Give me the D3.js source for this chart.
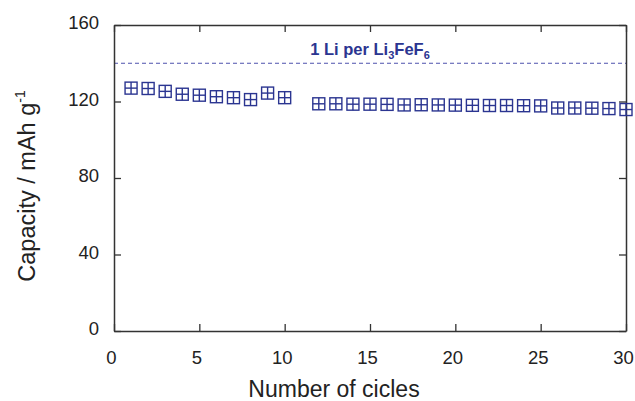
<!DOCTYPE html>
<html>
<head>
<meta charset="utf-8">
<script src="https://cdn.jsdelivr.net/npm/d3@7"></script>
<style>
  body { margin: 0; background: #fff; }
  svg { display: block; font-family: "Liberation Sans", Arial, Helvetica, sans-serif; }
</style>
</head>
<body>
<svg id="chart" width="635" height="401"></svg>
<script>
// capacity per cycle (cycle 11 missing in the original)
const cycles = [1, 2, 3, 4, 5, 6, 7, 8, 9, 10,
    12, 13, 14, 15, 16, 17, 18, 19, 20,
    21, 22, 23, 24, 25, 26, 27, 28, 29, 30];
const capacity = [127.0, 126.8, 125.3, 123.8, 123.3, 122.5, 122.0, 121.0, 124.4, 122.0,
    118.8, 118.8, 118.6, 118.6, 118.5, 118.2, 118.3, 118.2, 118.1,
    118.0, 117.9, 117.9, 117.8, 117.7, 116.6, 116.6, 116.5, 116.3, 115.8];
const xTicks = [0, 5, 10, 15, 20, 25, 30];
const yTicks = [0, 40, 80, 120, 160];
const theoretical = 140; // 1 Li per Li3FeF6

const margin = { top: 25, right: 9, bottom: 70, left: 114 };
const width = 635, height = 401;

const svg = d3.select("#chart");

const x = d3.scaleLinear().domain([0, 30]).range([margin.left, width - margin.right]);
const y = d3.scaleLinear().domain([0, 160]).range([height - margin.bottom, margin.top]);

const axisColor = "#333";
const markColor = "#2b3591";

// dashed reference line
svg.append("line")
    .attr("x1", x(0)).attr("x2", x(30))
    .attr("y1", y(theoretical)).attr("y2", y(theoretical))
    .attr("stroke", "#4d52ad")
    .attr("stroke-width", 1)
    .attr("stroke-dasharray", "4,3");

const label = svg.append("text")
    .attr("x", x(15))
    .attr("y", y(theoretical) - 8)
    .attr("text-anchor", "middle")
    .attr("font-size", 16.5)
    .attr("font-weight", "bold")
    .attr("fill", markColor);
label.append("tspan").text("1 Li per Li");
label.append("tspan").attr("font-size", 11).attr("dy", 4).text("3");
label.append("tspan").attr("dy", -4).text("FeF");
label.append("tspan").attr("font-size", 11).attr("dy", 4).text("6");

// axes with inward ticks on all four sides
const gBottom = svg.append("g")
    .attr("transform", `translate(0,${y(0)})`)
    .call(d3.axisBottom(x).tickValues(xTicks).tickSizeInner(-7).tickSizeOuter(0).tickPadding(20));
const gTop = svg.append("g")
    .attr("transform", `translate(0,${y(160)})`)
    .call(d3.axisTop(x).tickValues(xTicks).tickSizeInner(-7).tickSizeOuter(0).tickFormat(""));
const gLeft = svg.append("g")
    .attr("transform", `translate(${x(0)},0)`)
    .call(d3.axisLeft(y).tickValues(yTicks).tickSizeInner(-7).tickSizeOuter(0).tickPadding(15));
const gRight = svg.append("g")
    .attr("transform", `translate(${x(30)},0)`)
    .call(d3.axisRight(y).tickValues(yTicks).tickSizeInner(-7).tickSizeOuter(0).tickFormat(""));

[gBottom, gTop, gLeft, gRight].forEach(g => {
    g.select(".domain").attr("stroke", axisColor).attr("stroke-width", 1.5);
    g.selectAll(".tick line").attr("stroke", axisColor).attr("stroke-width", 1.3);
    g.selectAll(".tick text").attr("fill", "#222").attr("font-size", 18.5)
        .attr("font-family", "Liberation Sans, Arial, sans-serif");
});
gBottom.selectAll(".tick text").attr("dx", -3);
gLeft.selectAll(".tick text").attr("dy", "0.2em");

// markers: open squares with a cross
const s = 6;
const pts = svg.append("g").selectAll("g.pt")
    .data(cycles.map((c, i) => ({ c: c, v: capacity[i] })))
    .join("g")
    .attr("class", "pt")
    .attr("transform", d => `translate(${x(d.c)},${y(d.v)})`)
    .attr("stroke", markColor)
    .attr("stroke-width", 1.4)
    .attr("fill", "none");
pts.append("rect").attr("x", -s).attr("y", -s).attr("width", 2 * s).attr("height", 2 * s);
pts.append("line").attr("x1", -s).attr("x2", s).attr("y1", 0).attr("y2", 0);
pts.append("line").attr("x1", 0).attr("x2", 0).attr("y1", -s).attr("y2", s);

// axis titles
svg.append("text")
    .attr("x", 334)
    .attr("y", 397)
    .attr("text-anchor", "middle")
    .attr("font-size", 23)
    .attr("fill", "#222")
    .text("Number of cicles");

const yTitle = svg.append("text")
    .attr("transform", `translate(35,186) rotate(-90)`)
    .attr("text-anchor", "middle")
    .attr("font-size", 23.5)
    .attr("fill", "#222");
yTitle.append("tspan").text("Capacity / mAh g");
yTitle.append("tspan").attr("font-size", 14).attr("dy", -10).text("-1");
</script>
</body>
</html>
